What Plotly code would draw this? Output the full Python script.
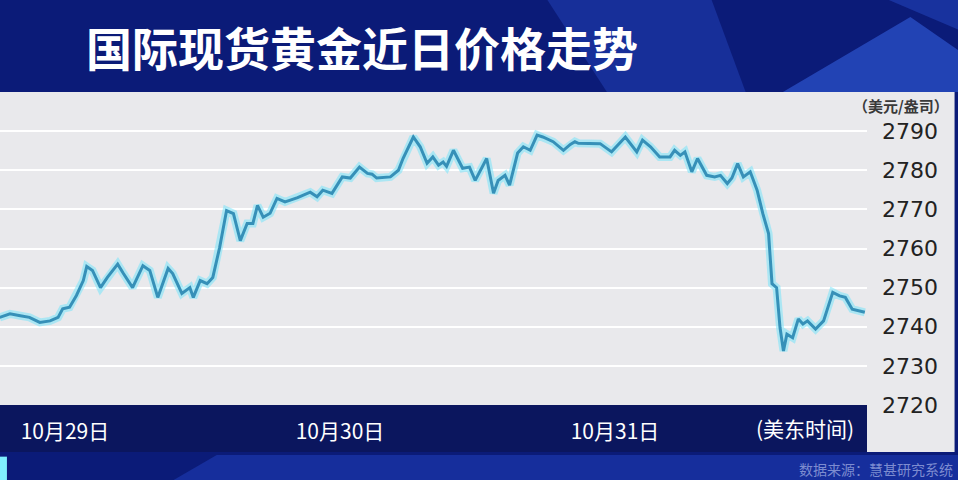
import plotly.graph_objects as go

# hours counted from 10/29 00:00 (US Eastern)
hours = [-5.7, -4.8, -3.9, -3.1, -2.2, -1.3, -0.6, -0.2, 0.4, 1.0,
         1.6, 1.9, 2.4, 3.1, 3.7, 4.6, 5.1, 5.9, 6.8, 7.4,
         8.1, 9.0, 9.4, 10.2, 10.9, 11.2, 11.8, 12.4, 12.9, 13.5,
         14.1, 14.7, 15.3, 15.9, 16.4, 16.8, 17.3, 17.9, 18.5, 19.2,
         19.6, 20.3, 21.4, 22.0, 22.5, 23.3, 24.2, 24.9, 25.7, 26.4,
         26.8, 27.2, 28.4, 29.1, 29.5, 30.4, 31.0, 31.6, 32.1, 32.6,
         33.0, 33.3, 33.9, 34.7, 35.3, 35.8, 36.8, 37.4, 37.8, 38.4,
         38.8, 39.5, 40.0, 40.6, 41.2, 41.7, 42.6, 43.5, 44.1, 44.5,
         44.8, 45.6, 46.7, 47.7, 48.9, 49.9, 50.4, 51.1, 51.9, 52.8,
         53.2, 53.7, 54.1, 54.7, 55.2, 56.0, 56.7, 57.2, 57.8, 58.2,
         58.7, 59.2, 59.8, 60.4, 60.9, 61.4, 61.7, 62.1, 62.4, 62.7,
         63.0, 63.5, 64.0, 64.4, 64.8, 65.5, 66.2, 67.0, 67.6, 68.1,
         68.7, 69.8]

prices = [2742.4, 2743.3, 2742.8, 2742.4, 2741.1, 2741.5, 2742.4, 2744.6, 2745.0, 2748.0,
          2751.8, 2755.4, 2754.4, 2750.0, 2752.6, 2756.0, 2753.6, 2750.0, 2755.6, 2754.4,
          2747.5, 2754.9, 2753.6, 2748.5, 2750.0, 2747.5, 2751.8, 2751.0, 2752.6, 2760.3,
          2769.7, 2768.9, 2762.0, 2766.4, 2766.4, 2771.0, 2768.0, 2769.0, 2772.8, 2771.9,
          2772.3, 2773.0, 2774.4, 2773.2, 2774.9, 2774.1, 2778.3, 2778.0, 2780.8, 2779.2,
          2779.0, 2778.0, 2778.3, 2780.0, 2783.0, 2788.5, 2786.0, 2781.8, 2783.4, 2781.3,
          2782.1, 2781.0, 2785.1, 2780.5, 2780.8, 2777.4, 2783.0, 2774.1, 2777.4, 2778.7,
          2776.2, 2784.4, 2786.0, 2785.1, 2789.0, 2788.5, 2787.3, 2785.1, 2786.6, 2787.3,
          2786.9, 2786.8, 2786.8, 2784.7, 2788.5, 2784.7, 2787.7, 2786.0, 2783.4, 2783.4,
          2785.1, 2783.8, 2784.7, 2779.6, 2783.0, 2778.7, 2778.3, 2778.7, 2776.6, 2778.0,
          2781.7, 2778.3, 2779.6, 2774.9, 2768.9, 2763.8, 2751.0, 2750.0, 2739.8, 2733.8,
          2738.1, 2737.2, 2742.0, 2740.7, 2741.5, 2739.4, 2741.5, 2748.8, 2747.9, 2747.5,
          2744.5, 2743.7]

day_ticks = [0, 24, 48]
day_labels = ["10月29日", "10月30日", "10月31日"]
y_ticks = [2720, 2730, 2740, 2750, 2760, 2770, 2780, 2790]

CJK = "Noto Sans CJK SC"
PANEL = "#e9e9ec"

fig = go.Figure()
# soft cyan glow under the line
fig.add_trace(go.Scatter(x=hours, y=prices, mode="lines",
                         line=dict(color="rgba(120,228,250,0.55)", width=8),
                         hoverinfo="skip", showlegend=False))
fig.add_trace(go.Scatter(x=hours, y=prices, mode="lines",
                         line=dict(color="#3690b8", width=3),
                         showlegend=False))

shapes = [
    # decorative lighter-blue slabs in the background
    dict(type="path", xref="paper", yref="paper", layer="below",
         path="M 0.63,1.30 L 0.82,1.30 L 0.86,1.0 L 0.70,1.0 Z",
         fillcolor="rgba(45,85,215,0.35)", line_width=0),
    dict(type="path", xref="paper", yref="paper", layer="below",
         path="M 0.903,1.0 L 1.050,1.240 L 1.105,1.134 L 1.105,1.0 Z",
         fillcolor="rgba(55,100,230,0.55)", line_width=0),
    dict(type="path", xref="paper", yref="paper", layer="below",
         path="M 1.02,1.30 L 1.105,1.30 L 1.105,1.20 Z",
         fillcolor="rgba(45,85,215,0.40)", line_width=0),
    dict(type="path", xref="paper", yref="paper", layer="below",
         path="M 0.25,-0.16 L 1.105,-0.16 L 1.105,-0.24 L 0.20,-0.24 Z",
         fillcolor="rgba(35,70,200,0.45)", line_width=0),
    # light panel behind plot and y labels
    dict(type="rect", xref="paper", yref="paper", layer="below",
         x0=0, x1=1.101, y0=-0.150, y1=1.0,
         fillcolor=PANEL, line_width=0),
    # navy strip holding the date labels
    dict(type="rect", xref="paper", yref="paper", layer="below",
         x0=0, x1=1.0, y0=-0.150, y1=0.0,
         fillcolor="#0b165e", line_width=0),
    # small cyan marker at bottom-left
    dict(type="rect", xref="paper", yref="paper", layer="below",
         x0=0, x1=0.008, y0=-0.24, y1=-0.165,
         fillcolor="#7ff0ff", line_width=0),
]

annotations = [
    dict(text="<b>国际现货黄金近日价格走势</b>", xref="paper", yref="paper",
         x=0.097, y=1.147, xanchor="left", yanchor="middle", showarrow=False,
         font=dict(family=CJK, size=46, color="white")),
    dict(text="<b>（美元/盎司）</b>", xref="paper", yref="paper",
         x=1.097, y=0.958, xanchor="right", yanchor="middle", showarrow=False,
         font=dict(family=CJK, size=15, color="#3a3a3a")),
    dict(text="(美东时间)", xref="paper", yref="paper",
         x=0.929, y=-0.072, xanchor="center", yanchor="middle", showarrow=False,
         font=dict(family=CJK, size=21, color="white")),
    dict(text="数据来源：慧甚研究系统", xref="paper", yref="paper",
         x=1.101, y=-0.203, xanchor="right", yanchor="middle", showarrow=False,
         font=dict(family=CJK, size=14, color="#7d8cd0")),
]

fig.update_layout(
    width=958, height=480,
    margin=dict(l=0, r=91, t=92, b=75),
    paper_bgcolor="#0b1b78",
    plot_bgcolor=PANEL,
    shapes=shapes,
    annotations=annotations,
    xaxis=dict(range=[-5.67, 69.99], tickvals=day_ticks, ticktext=day_labels,
               showgrid=False, zeroline=False, showline=False, ticks="",
               ticklabelstandoff=12,
               tickfont=dict(family=CJK, size=21, color="white")),
    yaxis=dict(range=[2720, 2800], side="right", tickvals=y_ticks,
               gridcolor="white", gridwidth=2, zeroline=False, showline=False,
               ticks="", ticklabelstandoff=14,
               tickfont=dict(family="DejaVu Sans", size=22, color="#222222")),
)

fig.write_html("out.html", config={"displayModeBar": False},
               post_script="document.body.style.margin='0';")
